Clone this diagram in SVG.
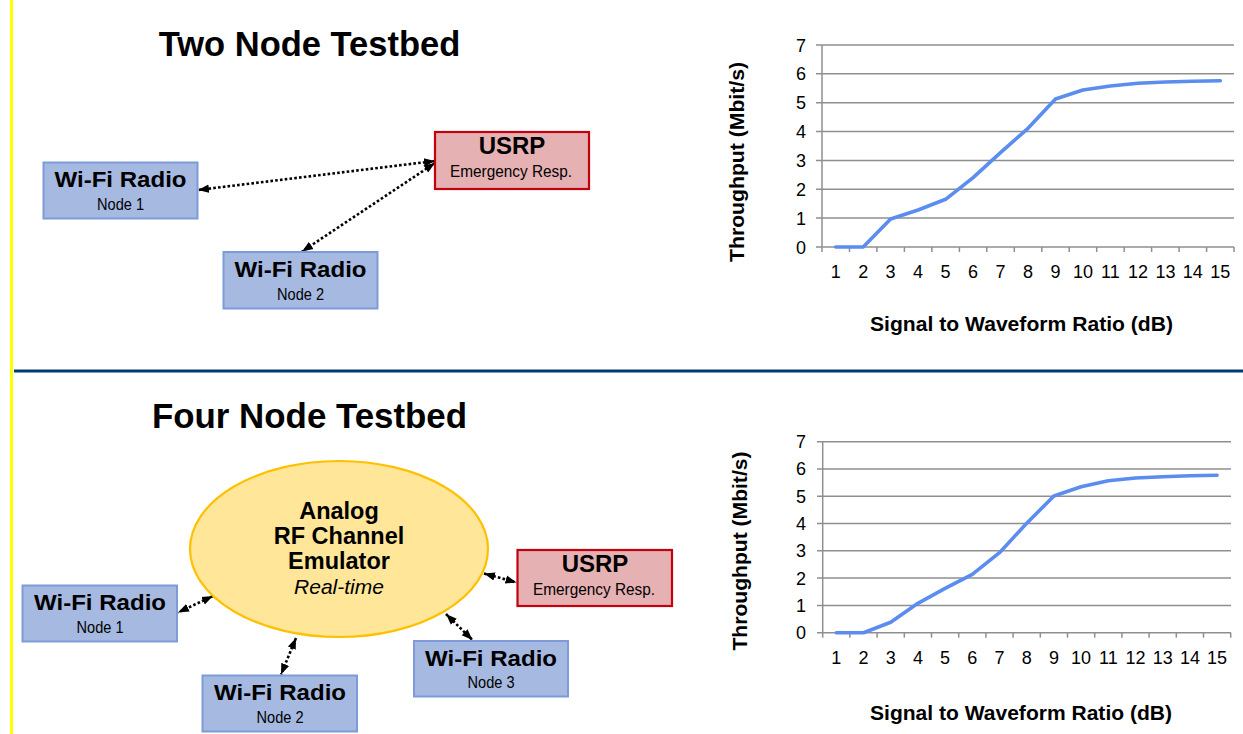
<svg xmlns="http://www.w3.org/2000/svg" width="1243" height="734" viewBox="0 0 1243 734">
<style>
  text { font-family: "Liberation Sans", Arial, sans-serif; fill: #000; }
  .title { font-size: 34.5px; font-weight: bold; text-anchor: middle; }
  .bt { font-size: 22.5px; font-weight: bold; text-anchor: middle; }
  .st { font-size: 17px; text-anchor: middle; }
  .usrp { font-size: 24px; font-weight: bold; text-anchor: middle; }
  .emu { font-size: 23.5px; font-weight: bold; text-anchor: middle; }
  .it { font-size: 21px; font-style: italic; text-anchor: middle; }
  .wifi rect { fill: #A6B9E1; stroke: #7D9BD8; stroke-width: 2; }
  .usrpbox rect { fill: #E6B1B3; stroke: #C3000E; stroke-width: 2.2; }
  .conn path { fill: none; stroke: #000; stroke-width: 2.6; stroke-dasharray: 2.6 2.2; marker-start: url(#ah); marker-end: url(#ah); }
  .grid line { stroke: #8F8F8F; stroke-width: 1.5; }
  .tick { font-size: 18px; }
  .ylab { text-anchor: end; }
  .xlab { text-anchor: middle; }
  .axt { font-size: 21px; font-weight: bold; text-anchor: middle; }
  .curve { fill: none; stroke: #5B8DEF; stroke-width: 3.6; stroke-linejoin: round; stroke-linecap: round; }
</style>
<defs>
  <marker id="ah" markerUnits="userSpaceOnUse" markerWidth="12" markerHeight="10" viewBox="0 0 12 10" refX="11" refY="5" orient="auto-start-reverse">
    <path d="M0,0.8 L11,5 L0,9.2 Z" fill="#000"/>
  </marker>
</defs>
<rect x="0" y="0" width="1243" height="734" fill="#fff"/>
<rect x="10" y="0" width="3" height="734" fill="#FFFF00"/>
<rect x="14" y="369.5" width="1229" height="3" fill="#003C71"/>

<text class="title" x="309.5" y="55.5">Two Node Testbed</text>
<text class="title" x="309.5" y="428" textLength="315" lengthAdjust="spacingAndGlyphs">Four Node Testbed</text>

<g id="connectors" class="conn">
  <path d="M435,161 L198,190"/>
  <path d="M435,163 L302,251.5"/>
  <path d="M213,596 L178,612.5"/>
  <path d="M296,638 L281,674.5"/>
  <path d="M446,614 L472.5,640"/>
  <path d="M484,573.5 L516.5,582.5"/>
</g>

<g id="usrp-top" class="usrpbox">
  <rect x="435" y="132" width="154" height="57"/>
  <text class="usrp" x="512" y="154">USRP</text>
  <text class="st" x="511" y="177" textLength="122" lengthAdjust="spacingAndGlyphs">Emergency Resp.</text>
</g>
<g id="wifi-top-1" class="wifi">
  <rect x="43.5" y="162.5" width="154" height="56"/>
  <text class="bt" x="120.5" y="187" textLength="132" lengthAdjust="spacingAndGlyphs">Wi-Fi Radio</text>
  <text class="st" x="120.5" y="210" textLength="47" lengthAdjust="spacingAndGlyphs">Node 1</text>
</g>
<g id="wifi-top-2" class="wifi">
  <rect x="223.5" y="252" width="154" height="56.5"/>
  <text class="bt" x="300.5" y="277" textLength="132" lengthAdjust="spacingAndGlyphs">Wi-Fi Radio</text>
  <text class="st" x="300.5" y="299.5" textLength="47" lengthAdjust="spacingAndGlyphs">Node 2</text>
</g>

<g id="emulator">
  <ellipse cx="339" cy="549" rx="149" ry="88" fill="#FFE699" stroke="#FFC000" stroke-width="2.2"/>
  <text class="emu" x="339" y="519">Analog</text>
  <text class="emu" x="339" y="543.5">RF Channel</text>
  <text class="emu" x="339" y="568.5">Emulator</text>
  <text class="it" x="339" y="593.5">Real-time</text>
</g>
<g id="usrp-bottom" class="usrpbox">
  <rect x="517.5" y="550" width="154.5" height="56"/>
  <text class="usrp" x="595" y="571.5">USRP</text>
  <text class="st" x="594" y="594.5" textLength="122" lengthAdjust="spacingAndGlyphs">Emergency Resp.</text>
</g>
<g id="wifi-bottom-1" class="wifi">
  <rect x="22.5" y="585.5" width="154.5" height="56"/>
  <text class="bt" x="100" y="610" textLength="132" lengthAdjust="spacingAndGlyphs">Wi-Fi Radio</text>
  <text class="st" x="100" y="632.5" textLength="47" lengthAdjust="spacingAndGlyphs">Node 1</text>
</g>
<g id="wifi-bottom-2" class="wifi">
  <rect x="202.5" y="675.5" width="154.5" height="56"/>
  <text class="bt" x="280" y="700" textLength="132" lengthAdjust="spacingAndGlyphs">Wi-Fi Radio</text>
  <text class="st" x="280" y="722.5" textLength="47" lengthAdjust="spacingAndGlyphs">Node 2</text>
</g>
<g id="wifi-bottom-3" class="wifi">
  <rect x="414" y="641" width="154" height="55.5"/>
  <text class="bt" x="491" y="666" textLength="132" lengthAdjust="spacingAndGlyphs">Wi-Fi Radio</text>
  <text class="st" x="491" y="688" textLength="47" lengthAdjust="spacingAndGlyphs">Node 3</text>
</g>

<g id="chart-top">
  <g class="grid">
    <line x1="816" y1="45" x2="1234" y2="45"/>
    <line x1="816" y1="73.8" x2="1234" y2="73.8"/>
    <line x1="816" y1="102.7" x2="1234" y2="102.7"/>
    <line x1="816" y1="131.6" x2="1234" y2="131.6"/>
    <line x1="816" y1="160.4" x2="1234" y2="160.4"/>
    <line x1="816" y1="189.3" x2="1234" y2="189.3"/>
    <line x1="816" y1="218.1" x2="1234" y2="218.1"/>
    <line x1="816" y1="247" x2="1234" y2="247"/>
    <line x1="822" y1="45" x2="822" y2="252"/>
    <line x1="849.5" y1="247" x2="849.5" y2="252"/>
    <line x1="876.9" y1="247" x2="876.9" y2="252"/>
    <line x1="904.4" y1="247" x2="904.4" y2="252"/>
    <line x1="931.9" y1="247" x2="931.9" y2="252"/>
    <line x1="959.4" y1="247" x2="959.4" y2="252"/>
    <line x1="986.8" y1="247" x2="986.8" y2="252"/>
    <line x1="1014.3" y1="247" x2="1014.3" y2="252"/>
    <line x1="1041.8" y1="247" x2="1041.8" y2="252"/>
    <line x1="1069.2" y1="247" x2="1069.2" y2="252"/>
    <line x1="1096.7" y1="247" x2="1096.7" y2="252"/>
    <line x1="1124.2" y1="247" x2="1124.2" y2="252"/>
    <line x1="1151.6" y1="247" x2="1151.6" y2="252"/>
    <line x1="1179.1" y1="247" x2="1179.1" y2="252"/>
    <line x1="1206.6" y1="247" x2="1206.6" y2="252"/>
    <line x1="1234" y1="247" x2="1234" y2="252"/>
  </g>
  <g class="tick ylab">
    <text x="806" y="51.5">7</text>
    <text x="806" y="80.3">6</text>
    <text x="806" y="109.2">5</text>
    <text x="806" y="138.1">4</text>
    <text x="806" y="166.9">3</text>
    <text x="806" y="195.8">2</text>
    <text x="806" y="224.6">1</text>
    <text x="806" y="253.5">0</text>
  </g>
  <g class="tick xlab">
    <text x="835.7" y="277.5">1</text>
    <text x="863.2" y="277.5">2</text>
    <text x="890.6" y="277.5">3</text>
    <text x="918.1" y="277.5">4</text>
    <text x="945.6" y="277.5">5</text>
    <text x="973.1" y="277.5">6</text>
    <text x="1000.5" y="277.5">7</text>
    <text x="1028" y="277.5">8</text>
    <text x="1055.5" y="277.5">9</text>
    <text x="1082.9" y="277.5">10</text>
    <text x="1110.4" y="277.5">11</text>
    <text x="1137.9" y="277.5">12</text>
    <text x="1165.4" y="277.5">13</text>
    <text x="1192.8" y="277.5">14</text>
    <text x="1220.3" y="277.5">15</text>
  </g>
  <polyline class="curve" points="835.7,247 863.2,247 890.6,219 918.1,210 945.6,199.3 973.1,177.7 1000.5,152.7 1028,128.3 1055.5,99 1082.9,90 1110.4,86 1137.9,83.3 1165.4,82 1192.8,81.3 1220.3,80.7"/>
  <text class="axt" x="1021.5" y="330.5" textLength="303" lengthAdjust="spacingAndGlyphs">Signal to Waveform Ratio (dB)</text>
  <text class="axt" transform="translate(744,162) rotate(-90)" x="0" y="0" textLength="200" lengthAdjust="spacingAndGlyphs">Throughput (Mbit/s)</text>
</g>

<g id="chart-bottom">
  <g class="grid">
    <line x1="817" y1="441.7" x2="1231" y2="441.7"/>
    <line x1="817" y1="468.9" x2="1231" y2="468.9"/>
    <line x1="817" y1="496.2" x2="1231" y2="496.2"/>
    <line x1="817" y1="523.5" x2="1231" y2="523.5"/>
    <line x1="817" y1="550.8" x2="1231" y2="550.8"/>
    <line x1="817" y1="578.1" x2="1231" y2="578.1"/>
    <line x1="817" y1="605.4" x2="1231" y2="605.4"/>
    <line x1="817" y1="632.7" x2="1231" y2="632.7"/>
    <line x1="822.7" y1="441.7" x2="822.7" y2="637.7"/>
    <line x1="849.9" y1="632.7" x2="849.9" y2="637.7"/>
    <line x1="877.1" y1="632.7" x2="877.1" y2="637.7"/>
    <line x1="904.3" y1="632.7" x2="904.3" y2="637.7"/>
    <line x1="931.5" y1="632.7" x2="931.5" y2="637.7"/>
    <line x1="958.7" y1="632.7" x2="958.7" y2="637.7"/>
    <line x1="985.9" y1="632.7" x2="985.9" y2="637.7"/>
    <line x1="1013.1" y1="632.7" x2="1013.1" y2="637.7"/>
    <line x1="1040.3" y1="632.7" x2="1040.3" y2="637.7"/>
    <line x1="1067.5" y1="632.7" x2="1067.5" y2="637.7"/>
    <line x1="1094.7" y1="632.7" x2="1094.7" y2="637.7"/>
    <line x1="1121.9" y1="632.7" x2="1121.9" y2="637.7"/>
    <line x1="1149.1" y1="632.7" x2="1149.1" y2="637.7"/>
    <line x1="1176.3" y1="632.7" x2="1176.3" y2="637.7"/>
    <line x1="1203.5" y1="632.7" x2="1203.5" y2="637.7"/>
    <line x1="1230.7" y1="632.7" x2="1230.7" y2="637.7"/>
  </g>
  <g class="tick ylab">
    <text x="806" y="448.2">7</text>
    <text x="806" y="475.4">6</text>
    <text x="806" y="502.7">5</text>
    <text x="806" y="530">4</text>
    <text x="806" y="557.3">3</text>
    <text x="806" y="584.6">2</text>
    <text x="806" y="611.9">1</text>
    <text x="806" y="639.2">0</text>
  </g>
  <g class="tick xlab">
    <text x="836.3" y="663.5">1</text>
    <text x="863.5" y="663.5">2</text>
    <text x="890.7" y="663.5">3</text>
    <text x="917.9" y="663.5">4</text>
    <text x="945.1" y="663.5">5</text>
    <text x="972.3" y="663.5">6</text>
    <text x="999.5" y="663.5">7</text>
    <text x="1026.7" y="663.5">8</text>
    <text x="1053.9" y="663.5">9</text>
    <text x="1081.1" y="663.5">10</text>
    <text x="1108.3" y="663.5">11</text>
    <text x="1135.5" y="663.5">12</text>
    <text x="1162.7" y="663.5">13</text>
    <text x="1189.9" y="663.5">14</text>
    <text x="1217.1" y="663.5">15</text>
  </g>
  <polyline class="curve" points="836.3,632.7 863.5,632.7 890.7,622.3 917.9,603.3 945.1,588.3 972.3,574.3 999.5,552.7 1026.7,523.3 1053.9,496 1081.1,486.7 1108.3,480.7 1135.5,478 1162.7,476.7 1189.9,475.7 1217.1,475.3"/>
  <text class="axt" x="1021" y="720" textLength="302" lengthAdjust="spacingAndGlyphs">Signal to Waveform Ratio (dB)</text>
  <text class="axt" transform="translate(747,551) rotate(-90)" x="0" y="0" textLength="199" lengthAdjust="spacingAndGlyphs">Throughput (Mbit/s)</text>
</g>
</svg>
